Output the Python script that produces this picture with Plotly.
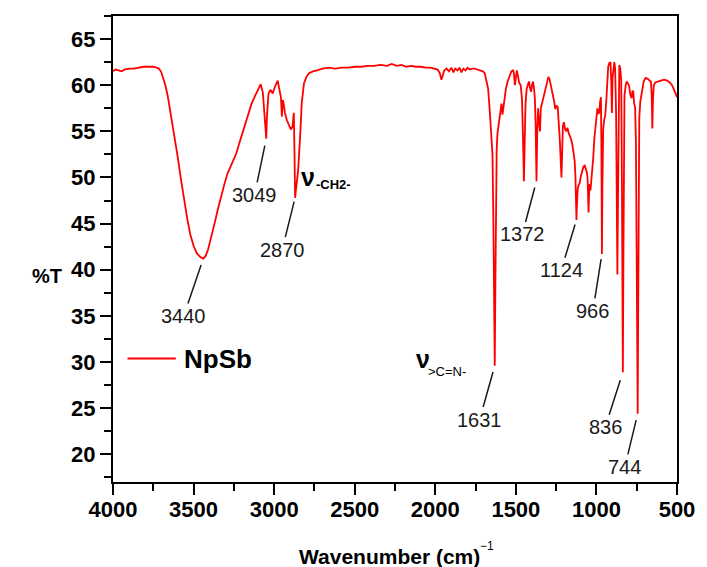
import plotly.graph_objects as go

# FTIR spectrum of NpSb: wavenumber (cm^-1) and transmittance (%T)
wavenumber = [
    4000, 3985, 3965, 3945, 3930, 3900, 3870, 3840, 3810, 3780, 3750, 3730, 3715, 3700,
    3690, 3675, 3660, 3640, 3620, 3600, 3580, 3560, 3540, 3520, 3500, 3480, 3460, 3440,
    3425, 3410, 3390, 3370, 3350, 3330, 3310, 3290, 3270, 3255, 3245, 3235, 3220, 3200,
    3180, 3160, 3140, 3120, 3100, 3084, 3070, 3060, 3053, 3049, 3045, 3040, 3035, 3023,
    3009, 2998, 2988, 2978, 2967, 2958, 2952, 2946, 2941, 2933, 2921, 2906, 2896, 2886,
    2878, 2874, 2870, 2865, 2860, 2851, 2839, 2829, 2815, 2800, 2784, 2760, 2733, 2700,
    2660, 2620, 2580, 2540, 2500, 2460, 2420, 2380, 2340, 2300, 2270, 2240, 2210, 2180,
    2150, 2120, 2090, 2060, 2030, 2000, 1985, 1972, 1962, 1955, 1945, 1930, 1915, 1900,
    1888, 1876, 1862, 1850, 1838, 1825, 1812, 1800, 1785, 1770, 1755, 1740, 1720, 1705,
    1693, 1683, 1672, 1662, 1652, 1645, 1640, 1636, 1631, 1627, 1623, 1619, 1614, 1608,
    1601, 1595, 1589, 1583, 1577, 1571, 1562, 1551, 1540, 1528, 1518, 1512, 1506, 1500,
    1494, 1487, 1480, 1470, 1462, 1456, 1450, 1445, 1440, 1433, 1425, 1419, 1412, 1405,
    1399, 1393, 1387, 1382, 1377, 1372, 1367, 1362, 1356, 1350, 1345, 1338, 1330, 1318,
    1308, 1298, 1290, 1280, 1270, 1262, 1255, 1248, 1240, 1234, 1227, 1221, 1217, 1213,
    1208, 1202, 1194, 1187, 1180, 1172, 1166, 1158, 1150, 1142, 1135, 1130, 1127, 1124,
    1121, 1116, 1110, 1104, 1096, 1088, 1080, 1073, 1066, 1060, 1055, 1052, 1049, 1046,
    1042, 1037, 1032, 1026, 1020, 1013, 1006, 1000, 994, 988, 982, 977, 972, 969,
    966, 963, 958, 952, 945, 938, 932, 927, 920, 913, 908, 904, 900, 895,
    889, 884, 878, 874, 870, 866, 862, 858, 852, 846, 842, 839, 836, 833,
    830, 826, 818, 812, 805, 798, 790, 782, 776, 771, 766, 760, 755, 750,
    747, 744, 741, 738, 734, 728, 722, 715, 707, 695, 682, 670, 662, 657,
    653, 649, 644, 635, 621, 600, 580, 561, 545, 531, 518, 508, 500,
]
transmittance = [
    61.5, 61.7, 61.6, 61.5, 61.7, 61.8, 61.8, 61.9, 62.0, 62.0, 62.0, 61.9, 61.8, 61.4,
    60.9, 60.0, 58.8, 56.8, 54.6, 52.4, 50.0, 47.7, 45.6, 43.8, 42.6, 41.8, 41.4, 41.2,
    41.5, 42.2, 43.5, 45.0, 46.5, 48.0, 49.2, 50.4, 51.2, 51.7, 52.1, 52.6, 53.5, 54.6,
    55.7, 57.0, 58.0, 58.8, 59.5, 60.1, 59.2, 56.5, 54.6, 54.2, 56.5, 58.3, 59.1, 59.5,
    59.1, 59.7, 60.2, 60.5, 59.5, 58.7, 56.6, 58.4, 58.0, 57.0, 56.2, 55.7, 55.2, 55.5,
    57.0, 53.0, 47.8, 48.6, 49.5, 50.8, 54.4, 58.0, 60.2, 60.9, 61.3, 61.5, 61.6, 61.8,
    61.9, 61.8, 61.9, 61.9, 62.0, 62.0, 62.1, 62.1, 62.2, 62.1, 62.3, 62.1, 62.2, 62.0,
    62.1, 62.0, 62.0, 61.9, 61.9, 61.8, 61.7, 61.3, 60.6, 61.0, 61.6, 61.8, 61.5, 61.9,
    61.4, 61.8, 61.6, 61.9, 61.4, 61.8, 61.6, 61.9, 61.7, 61.8, 61.8, 61.7, 61.6, 61.5,
    61.3, 60.5, 59.6, 57.2, 55.0, 52.5, 46.0, 38.0, 29.6, 38.5, 48.0, 53.0, 54.8, 55.6,
    56.4, 57.3, 58.0, 56.8, 57.6, 58.6, 59.6, 60.4, 61.0, 61.5, 61.6, 61.3, 60.0, 61.1,
    61.6, 61.0, 60.3, 60.0, 58.5, 54.5, 49.6, 54.0, 58.0, 59.6, 60.2, 60.4, 59.7, 59.3,
    60.1, 60.4, 59.6, 58.5, 55.5, 49.6, 55.0, 57.5, 56.0, 55.0, 57.5, 58.0, 58.5, 59.5,
    60.4, 60.9, 60.6, 59.8, 59.0, 58.2, 57.4, 57.8, 57.6, 56.2, 54.0, 51.5, 50.0, 52.5,
    55.6, 56.0, 55.2, 55.0, 55.4, 54.8, 54.6, 54.2, 53.6, 52.8, 51.8, 50.0, 47.5, 45.4,
    47.0, 48.8, 49.2, 49.4, 50.2, 50.8, 51.2, 51.3, 51.0, 50.6, 50.0, 48.5, 46.2, 48.0,
    49.3, 48.6, 49.5, 51.0, 52.1, 54.2, 55.8, 57.0, 57.5, 56.9, 57.1, 58.2, 58.7, 53.0,
    41.7, 49.0, 55.2, 56.2, 56.8, 58.5, 60.5, 62.0, 62.4, 62.5, 60.5, 57.0, 60.8, 62.0,
    62.5, 61.8, 57.0, 48.0, 39.5, 48.0, 58.0, 62.2, 61.8, 60.5, 50.0, 38.0, 28.9, 40.0,
    52.0, 58.9, 60.0, 60.4, 60.2, 60.0, 59.0, 58.6, 59.4, 59.3, 58.0, 57.6, 54.0, 42.0,
    30.0, 24.4, 35.0, 48.0, 56.5, 58.2, 58.9, 59.8, 60.4, 60.8, 60.7, 60.5, 60.4, 59.0,
    55.3, 58.5, 60.0, 60.3, 60.4, 60.5, 60.6, 60.5, 60.3, 60.0, 59.5, 59.0, 58.7,
]

# Assigned band positions
peak_wavenumbers = [3440, 3049, 2870, 1631, 1372, 1124, 966, 836, 744]

x_ticks = [4000, 3500, 3000, 2500, 2000, 1500, 1000, 500]
y_ticks = [20, 25, 30, 35, 40, 45, 50, 55, 60, 65]

FONT = "Liberation Sans, Arial, sans-serif"
INK = "#1a1a1a"
RED = "rgb(255,0,0)"

# label placement: (text dx, text dy, gap to band) in pixels
label_layout = {
    3440: (-19.5, 57.4, 6.7),
    3049: (-11.7, 56.2, 7.0),
    2870: (-12.9, 51.9, 4.0),
    1631: (-15.1, 53.8, 6.5),
    1372: (-14.3, 53.3, 6.6),
    1124: (-15.3, 50.3, 4.7),
    966: (-9.0, 56.7, 5.0),
    836: (-17.7, 55.0, 8.4),
    744: (-12.8, 53.2, 6.6),
}

fig = go.Figure()
fig.add_trace(go.Scatter(
    x=wavenumber, y=transmittance, mode="lines", name="NpSb",
    line=dict(color=RED, width=1.8), showlegend=False,
))

for wn in peak_wavenumbers:
    t = transmittance[wavenumber.index(wn)]
    dx, dy, gap = label_layout[wn]
    fig.add_annotation(
        x=wn, y=t, text=str(wn), showarrow=True, arrowhead=0,
        arrowwidth=1.5, arrowcolor=INK, ax=dx, ay=dy, standoff=gap,
        font=dict(family=FONT, size=20, color=INK),
    )


def paper_text(x, y, text, size, weight="normal", xanchor="left", color="black"):
    fig.add_annotation(
        xref="paper", yref="paper", x=x, y=y, xanchor=xanchor, yanchor="middle",
        text=text, showarrow=False,
        font=dict(family=FONT, size=size, color=color, weight=weight),
    )


# band assignments: ν with subscripted group
paper_text(0.3304, 0.6545, "ν", 25, "bold")
paper_text(0.3567, 0.6388, "-CH2-", 13, "bold")
paper_text(0.5330, 0.2640, "ν", 25, "bold")
paper_text(0.5545, 0.2376, "&gt;C=N-", 13)

# legend entry
fig.add_shape(type="line", xref="paper", yref="paper", x0=0.0257, x1=0.1114,
              y0=0.2648, y1=0.2648, line=dict(color=RED, width=2))
paper_text(0.1219, 0.2648, "NpSb", 26, "bold")

# axis titles
paper_text(-0.117, 0.441, "%T", 20, "bold", xanchor="center")
paper_text(0.490, -0.1594, "Wavenumber (cm)", 21, "bold", xanchor="center")
paper_text(0.6465, -0.137, "−1", 12)

axis_common = dict(
    showline=True, linewidth=2, linecolor="black", mirror=True,
    ticks="outside", ticklen=11, tickwidth=2, tickcolor="black",
    showgrid=False, zeroline=False,
    tickfont=dict(family=FONT, size=22, color="black", weight="bold"),
)

fig.update_xaxes(
    range=[4000, 500], tickvals=x_ticks, ticktext=[str(v) for v in x_ticks],
    ticklabelstandoff=-4,
    minor=dict(dtick=250, ticklen=7, tickwidth=2, tickcolor="black", ticks="outside", showgrid=False),
    **axis_common,
)
fig.update_yaxes(
    range=[17, 67.5], tickvals=y_ticks, ticktext=[str(v) for v in y_ticks],
    minor=dict(dtick=2.5, ticklen=7, tickwidth=2, tickcolor="black", ticks="outside", showgrid=False),
    **axis_common,
)

fig.update_layout(
    width=707, height=567,
    margin=dict(l=113, r=22, t=16, b=85),
    plot_bgcolor="white", paper_bgcolor="white",
    showlegend=False,
)

fig.write_html("out.html")
